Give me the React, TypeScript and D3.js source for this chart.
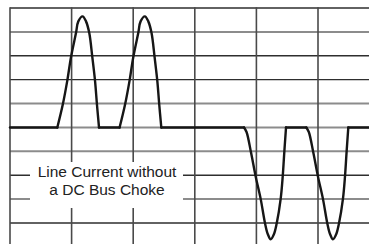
import React from "react";
import * as d3 from "d3";

// grid (in grid units)
const xGrid = [0, 1, 2, 3, 4, 5];
const yGrid = [5, 4, 3, 2, 1, 0, -1, -2, -3, -4];
const yGridTone = ["dark", "gray", "dark", "dark", "gray", "gray", "gray", "dark", "gray", "dark"];

// waveform pulses (x in grid divisions, y in grid divisions)
const pulseUp1X = [0.768, 0.856, 0.93, 0.99, 1.071, 1.109, 1.178, 1.234, 1.287, 1.336, 1.38, 1.412, 1.445];
const pulseUp1Y = [0, 0.95, 1.96, 2.94, 3.95, 4.44, 4.65, 4.44, 3.95, 2.95, 1.96, 0.95, 0];
const pulseUp2X = [1.779, 1.867, 1.941, 2.001, 2.082, 2.12, 2.189, 2.245, 2.298, 2.347, 2.391, 2.423, 2.456];
const pulseUp2Y = [0, 0.95, 1.96, 2.94, 3.95, 4.44, 4.65, 4.44, 3.95, 2.95, 1.96, 0.95, 0];
const pulseDn1X = [3.799, 3.84, 3.912, 3.989, 4.07, 4.14, 4.184, 4.232, 4.286, 4.33, 4.394, 4.427, 4.453, 4.481];
const pulseDn1Y = [0, -0.19, -1.04, -2.06, -3.0, -4.01, -4.46, -4.68, -4.46, -4.01, -2.99, -2.06, -1.03, 0];
const pulseDn2X = [4.81, 4.851, 4.923, 5.0, 5.081, 5.151, 5.195, 5.243, 5.297, 5.341, 5.405, 5.438, 5.464, 5.492];
const pulseDn2Y = [0, -0.19, -1.04, -2.06, -3.0, -4.01, -4.46, -4.68, -4.46, -4.01, -2.99, -2.06, -1.03, 0];

const traceStart = 0;
const traceEnd = 6;

const labelLines = ["Line Current without", "a DC Bus Choke"];

const W = 369;
const H = 244;

export default function App() {
  const x = d3.scaleLinear().domain([0, 6]).range([10, 10 + 6 * 61.6]);
  const y = d3.scaleLinear().domain([5, -4]).range([8, 223]);

  const pulses = [
    [pulseUp1X, pulseUp1Y],
    [pulseUp2X, pulseUp2Y],
    [pulseDn1X, pulseDn1Y],
    [pulseDn2X, pulseDn2Y],
  ].map(([xs, ys]) => xs.map((v, i) => [v, ys[i]] as [number, number]));

  const curveLine = d3
    .line<[number, number]>()
    .x((d) => x(d[0]))
    .y((d) => y(d[1]))
    .curve(d3.curveCatmullRom.alpha(0.5));
  const flatLine = d3
    .line<[number, number]>()
    .x((d) => x(d[0]))
    .y((d) => y(d[1]));

  const flats: [number, number][][] = [];
  let prev = traceStart;
  pulses.forEach((p) => {
    flats.push([[prev, 0], [p[0][0], 0]]);
    prev = p[p.length - 1][0];
  });
  flats.push([[prev, 0], [traceEnd, 0]]);

  const font = "'Liberation Sans', Arial, Helvetica, sans-serif";

  return (
    <svg
      width={W}
      height={H}
      style={{ position: "absolute", left: 0, top: 0, background: "#fff" }}
    >
      <rect x={0} y={0} width={W} height={H} fill="#fff" />
      {yGrid.map((g, i) => (
        <line
          key={"h" + g}
          x1={x(0)}
          x2={W}
          y1={y(g)}
          y2={y(g)}
          stroke={yGridTone[i] === "dark" ? "#2e2e2e" : "#8c8c8c"}
          strokeWidth={yGridTone[i] === "dark" ? 1.4 : 2}
        />
      ))}
      {xGrid.map((g) => (
        <line
          key={"v" + g}
          x1={x(g)}
          x2={x(g)}
          y1={y(5) - 0.7}
          y2={H}
          stroke="#4a4a4a"
          strokeWidth={1.6}
        />
      ))}
      <rect x={30} y={162} width={153} height={46} fill="#fff" />
      {labelLines.map((t, i) => (
        <text
          key={t}
          x={107}
          y={177 + i * 18}
          textAnchor="middle"
          fontFamily={font}
          fontSize={15.5}
          fill="#222"
        >
          {t}
        </text>
      ))}
      {flats.map((f, i) => (
        <path
          key={"f" + i}
          d={flatLine(f) || ""}
          fill="none"
          stroke="#161616"
          strokeWidth={2.4}
          strokeLinecap="round"
        />
      ))}
      {pulses.map((p, i) => (
        <path
          key={"p" + i}
          d={curveLine(p) || ""}
          fill="none"
          stroke="#161616"
          strokeWidth={2.4}
          strokeLinecap="round"
          strokeLinejoin="round"
        />
      ))}
    </svg>
  );
}
